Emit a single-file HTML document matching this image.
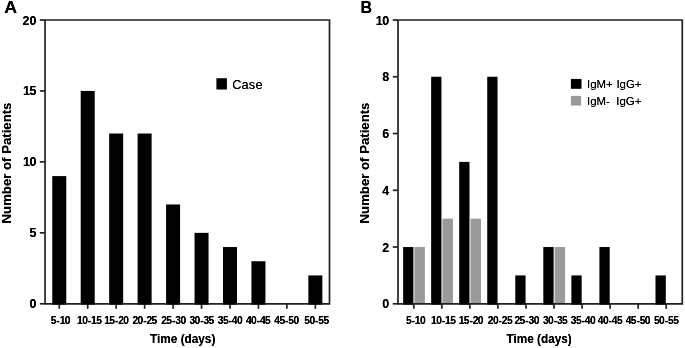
<!DOCTYPE html><html><head><meta charset="utf-8"><title>Figure</title>
<style>html,body{margin:0;padding:0;background:#fff}svg{display:block}text{font-family:"Liberation Sans",Arial,Helvetica,sans-serif;fill:#000}.b{font-weight:bold}</style></head><body>
<svg width="685" height="348" viewBox="0 0 685 348">
<defs><filter id="soft" x="0" y="0" width="685" height="348" filterUnits="userSpaceOnUse"><feGaussianBlur stdDeviation="0.4"/></filter><filter id="tx" x="0" y="0" width="685" height="348" filterUnits="userSpaceOnUse"><feGaussianBlur stdDeviation="0.45"/><feComponentTransfer><feFuncA type="linear" slope="1.35" intercept="0"/></feComponentTransfer></filter></defs>
<rect width="685" height="348" fill="#fff"/>
<g filter="url(#soft)">
<path d="M45.05 20H329.5V303.8H45.05Z" fill="none" stroke="#222" stroke-width="1.7"/>
<path d="M39.85 303.8H45.05" stroke="#222" stroke-width="1.7"/>
<path d="M39.85 232.85H45.05" stroke="#222" stroke-width="1.7"/>
<path d="M39.85 161.9H45.05" stroke="#222" stroke-width="1.7"/>
<path d="M39.85 90.95H45.05" stroke="#222" stroke-width="1.7"/>
<path d="M39.85 20H45.05" stroke="#222" stroke-width="1.7"/>
<path d="M59.25 303.8V308.8" stroke="#222" stroke-width="1.7"/>
<path d="M87.71 303.8V308.8" stroke="#222" stroke-width="1.7"/>
<path d="M116.16 303.8V308.8" stroke="#222" stroke-width="1.7"/>
<path d="M144.62 303.8V308.8" stroke="#222" stroke-width="1.7"/>
<path d="M173.07 303.8V308.8" stroke="#222" stroke-width="1.7"/>
<path d="M201.53 303.8V308.8" stroke="#222" stroke-width="1.7"/>
<path d="M229.98 303.8V308.8" stroke="#222" stroke-width="1.7"/>
<path d="M258.44 303.8V308.8" stroke="#222" stroke-width="1.7"/>
<path d="M286.89 303.8V308.8" stroke="#222" stroke-width="1.7"/>
<path d="M315.35 303.8V308.8" stroke="#222" stroke-width="1.7"/>
<rect x="52.25" y="176.09" width="14" height="128.56" fill="#000"/>
<rect x="80.71" y="90.95" width="14" height="213.7" fill="#000"/>
<rect x="109.16" y="133.52" width="14" height="171.13" fill="#000"/>
<rect x="137.62" y="133.52" width="14" height="171.13" fill="#000"/>
<rect x="166.07" y="204.47" width="14" height="100.18" fill="#000"/>
<rect x="194.53" y="232.85" width="14" height="71.8" fill="#000"/>
<rect x="222.98" y="247.04" width="14" height="57.61" fill="#000"/>
<rect x="251.44" y="261.23" width="14" height="43.42" fill="#000"/>
<rect x="308.35" y="275.42" width="14" height="29.23" fill="#000"/>
<rect x="216.4" y="78.2" width="10.5" height="11.3" fill="#000"/>
<rect x="414.4" y="247.04" width="10.5" height="56.76" fill="#9a9a9a"/>
<rect x="442.44" y="218.66" width="10.5" height="85.14" fill="#9a9a9a"/>
<rect x="470.49" y="218.66" width="10.5" height="85.14" fill="#9a9a9a"/>
<rect x="554.62" y="247.04" width="10.5" height="56.76" fill="#9a9a9a"/>
<path d="M398 20H682.3V303.8H398Z" fill="none" stroke="#222" stroke-width="1.7"/>
<path d="M392.8 303.8H398" stroke="#222" stroke-width="1.7"/>
<path d="M392.8 247.04H398" stroke="#222" stroke-width="1.7"/>
<path d="M392.8 190.28H398" stroke="#222" stroke-width="1.7"/>
<path d="M392.8 133.52H398" stroke="#222" stroke-width="1.7"/>
<path d="M392.8 76.76H398" stroke="#222" stroke-width="1.7"/>
<path d="M392.8 20H398" stroke="#222" stroke-width="1.7"/>
<path d="M413.8 303.8V308.8" stroke="#222" stroke-width="1.7"/>
<path d="M441.84 303.8V308.8" stroke="#222" stroke-width="1.7"/>
<path d="M469.89 303.8V308.8" stroke="#222" stroke-width="1.7"/>
<path d="M497.93 303.8V308.8" stroke="#222" stroke-width="1.7"/>
<path d="M525.98 303.8V308.8" stroke="#222" stroke-width="1.7"/>
<path d="M554.02 303.8V308.8" stroke="#222" stroke-width="1.7"/>
<path d="M582.07 303.8V308.8" stroke="#222" stroke-width="1.7"/>
<path d="M610.11 303.8V308.8" stroke="#222" stroke-width="1.7"/>
<path d="M638.16 303.8V308.8" stroke="#222" stroke-width="1.7"/>
<path d="M666.2 303.8V308.8" stroke="#222" stroke-width="1.7"/>
<rect x="403.1" y="247.04" width="10.3" height="57.61" fill="#000"/>
<rect x="431.14" y="76.76" width="10.3" height="227.89" fill="#000"/>
<rect x="459.19" y="161.9" width="10.3" height="142.75" fill="#000"/>
<rect x="487.23" y="76.76" width="10.3" height="227.89" fill="#000"/>
<rect x="515.28" y="275.42" width="10.3" height="29.23" fill="#000"/>
<rect x="543.32" y="247.04" width="10.3" height="57.61" fill="#000"/>
<rect x="571.37" y="275.42" width="10.3" height="29.23" fill="#000"/>
<rect x="599.41" y="247.04" width="10.3" height="57.61" fill="#000"/>
<rect x="655.5" y="275.42" width="10.3" height="29.23" fill="#000"/>
<rect x="570.9" y="78.9" width="10.6" height="9.9" fill="#000"/>
<rect x="570.9" y="95.9" width="10.2" height="9.7" fill="#9a9a9a"/>
</g>
<g filter="url(#tx)">
<text class="b" transform="translate(10.65 13) scale(1.11 1)" font-size="16" text-anchor="middle">A</text>
<text class="b" transform="translate(36.4 308.3) scale(0.96 1)" font-size="13" text-anchor="end">0</text>
<text class="b" transform="translate(36.4 237.35) scale(0.96 1)" font-size="13" text-anchor="end">5</text>
<text class="b" transform="translate(36.4 166.4) scale(0.96 1)" font-size="13" dx="0 -0.45" text-anchor="end">10</text>
<text class="b" transform="translate(36.4 95.45) scale(0.96 1)" font-size="13" dx="0 -0.45" text-anchor="end">15</text>
<text class="b" transform="translate(36.4 24.5) scale(0.96 1)" font-size="13" text-anchor="end">20</text>
<text class="b" transform="translate(60.65 324) scale(0.935 1)" font-size="11" dx="0 -0.15 -0.15 -0.6" text-anchor="middle">5-10</text>
<text class="b" transform="translate(89.45 324) scale(0.935 1)" font-size="11" dx="0 -0.6 -0.15 -0.15 -0.6" text-anchor="middle">10-15</text>
<text class="b" transform="translate(116.6 324) scale(0.935 1)" font-size="11" dx="0 -0.6 -0.15 -0.15 -0.6" text-anchor="middle">15-20</text>
<text class="b" transform="translate(144.85 324) scale(0.935 1)" font-size="11" dx="0 -0.6 -0.15 -0.15 -0.6" text-anchor="middle">20-25</text>
<text class="b" transform="translate(173.65 324) scale(0.935 1)" font-size="11" dx="0 -0.6 -0.15 -0.15 -0.6" text-anchor="middle">25-30</text>
<text class="b" transform="translate(201.85 324) scale(0.935 1)" font-size="11" dx="0 -0.6 -0.15 -0.15 -0.6" text-anchor="middle">30-35</text>
<text class="b" transform="translate(230.3 324) scale(0.935 1)" font-size="11" dx="0 -0.6 -0.15 -0.15 -0.6" text-anchor="middle">35-40</text>
<text class="b" transform="translate(258.35 324) scale(0.935 1)" font-size="11" dx="0 -0.6 -0.15 -0.15 -0.6" text-anchor="middle">40-45</text>
<text class="b" transform="translate(286.8 324) scale(0.935 1)" font-size="11" dx="0 -0.6 -0.15 -0.15 -0.6" text-anchor="middle">45-50</text>
<text class="b" transform="translate(316.8 324) scale(0.935 1)" font-size="11" dx="0 -0.6 -0.15 -0.15 -0.6" text-anchor="middle">50-55</text>
<text class="b" transform="translate(182.7 342.7) scale(0.935 1)" font-size="12.6" text-anchor="middle">Time (days)</text>
<text class="b" transform="translate(11.2 163) rotate(-90)" font-size="13.2" text-anchor="middle">Number of Patients</text>
<text x="232.2" y="88.6" font-size="12.8" letter-spacing="0.15">Case</text>
<text class="b" x="360.5" y="13" font-size="16">B</text>
<text class="b" transform="translate(389.3 308.3) scale(0.96 1)" font-size="13" text-anchor="end">0</text>
<text class="b" transform="translate(389.3 251.54) scale(0.96 1)" font-size="13" text-anchor="end">2</text>
<text class="b" transform="translate(389.3 194.78) scale(0.96 1)" font-size="13" text-anchor="end">4</text>
<text class="b" transform="translate(389.3 138.02) scale(0.96 1)" font-size="13" text-anchor="end">6</text>
<text class="b" transform="translate(389.3 81.26) scale(0.96 1)" font-size="13" text-anchor="end">8</text>
<text class="b" transform="translate(389.3 24.5) scale(0.96 1)" font-size="13" dx="0 -0.45" text-anchor="end">10</text>
<text class="b" transform="translate(415.8 324) scale(0.935 1)" font-size="11" dx="0 -0.15 -0.15 -0.6" text-anchor="middle">5-10</text>
<text class="b" transform="translate(443.5 324) scale(0.935 1)" font-size="11" dx="0 -0.6 -0.15 -0.15 -0.6" text-anchor="middle">10-15</text>
<text class="b" transform="translate(471.1 324) scale(0.935 1)" font-size="11" dx="0 -0.6 -0.15 -0.15 -0.6" text-anchor="middle">15-20</text>
<text class="b" transform="translate(500.3 324) scale(0.935 1)" font-size="11" dx="0 -0.6 -0.15 -0.15 -0.6" text-anchor="middle">20-25</text>
<text class="b" transform="translate(526.9 324) scale(0.935 1)" font-size="11" dx="0 -0.6 -0.15 -0.15 -0.6" text-anchor="middle">25-30</text>
<text class="b" transform="translate(555.35 324) scale(0.935 1)" font-size="11" dx="0 -0.6 -0.15 -0.15 -0.6" text-anchor="middle">30-35</text>
<text class="b" transform="translate(583.2 324) scale(0.935 1)" font-size="11" dx="0 -0.6 -0.15 -0.15 -0.6" text-anchor="middle">35-40</text>
<text class="b" transform="translate(610.3 324) scale(0.935 1)" font-size="11" dx="0 -0.6 -0.15 -0.15 -0.6" text-anchor="middle">40-45</text>
<text class="b" transform="translate(638.1 324) scale(0.935 1)" font-size="11" dx="0 -0.6 -0.15 -0.15 -0.6" text-anchor="middle">45-50</text>
<text class="b" transform="translate(666.4 324) scale(0.935 1)" font-size="11" dx="0 -0.6 -0.15 -0.15 -0.6" text-anchor="middle">50-55</text>
<text class="b" transform="translate(539.1 342.7) scale(0.935 1)" font-size="12.6" text-anchor="middle">Time (days)</text>
<text class="b" transform="translate(369.3 163) rotate(-90)" font-size="13.2" text-anchor="middle">Number of Patients</text>
<text x="587" y="88.1" font-size="11.45" word-spacing="0.5">IgM+ IgG+</text>
<text x="587" y="104.7" font-size="11.45" style="white-space:pre">IgM-  IgG+</text>
</g>
</svg></body></html>
